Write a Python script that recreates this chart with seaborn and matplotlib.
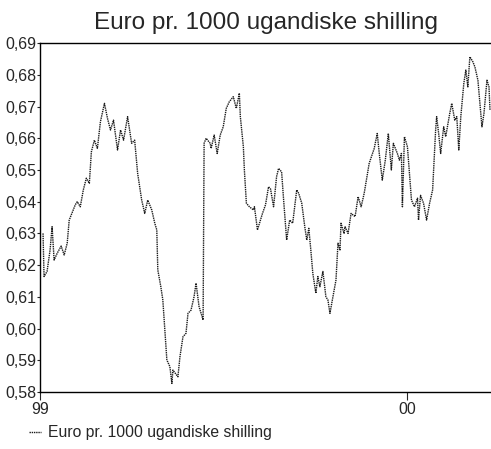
import pandas as pd
import matplotlib
matplotlib.use('Agg')
import matplotlib.pyplot as plt
import matplotlib.dates as mdates
from matplotlib.ticker import FuncFormatter, MultipleLocator
import seaborn as sns

# Values (approximate)
dates = [
    '1999-01-04', '1999-01-05', '1999-01-08', '1999-01-11', '1999-01-13', '1999-01-15',
    '1999-01-18', '1999-01-22', '1999-01-25', '1999-01-28', '1999-01-30', '1999-02-01',
    '1999-02-05', '1999-02-07', '1999-02-10', '1999-02-13', '1999-02-16', '1999-02-19',
    '1999-02-21', '1999-02-24', '1999-02-27', '1999-03-02', '1999-03-06', '1999-03-09',
    '1999-03-12', '1999-03-15', '1999-03-19', '1999-03-22', '1999-03-25', '1999-03-29',
    '1999-04-02', '1999-04-05', '1999-04-08', '1999-04-12', '1999-04-15', '1999-04-18',
    '1999-04-22', '1999-04-25', '1999-04-27', '1999-04-28', '1999-05-01', '1999-05-03',
    '1999-05-05', '1999-05-07', '1999-05-10', '1999-05-12', '1999-05-13', '1999-05-18',
    '1999-05-20', '1999-05-23', '1999-05-26', '1999-05-28', '1999-05-31', '1999-06-03',
    '1999-06-05', '1999-06-08', '1999-06-12', '1999-06-13', '1999-06-15', '1999-06-19',
    '1999-06-20', '1999-06-23', '1999-06-26', '1999-06-29', '1999-07-02', '1999-07-05',
    '1999-07-08', '1999-07-12', '1999-07-15', '1999-07-18', '1999-07-19', '1999-07-22',
    '1999-07-23', '1999-07-25', '1999-07-28', '1999-08-01', '1999-08-02', '1999-08-05',
    '1999-08-08', '1999-08-10', '1999-08-13', '1999-08-16', '1999-08-18', '1999-08-21',
    '1999-08-24', '1999-08-26', '1999-08-29', '1999-08-31', '1999-09-03', '1999-09-06',
    '1999-09-09', '1999-09-13', '1999-09-15', '1999-09-18', '1999-09-21', '1999-09-23',
    '1999-09-25', '1999-09-27', '1999-09-29', '1999-10-02', '1999-10-04', '1999-10-06',
    '1999-10-09', '1999-10-12', '1999-10-14', '1999-10-16', '1999-10-19', '1999-10-22',
    '1999-10-24', '1999-10-26', '1999-10-27', '1999-10-30', '1999-10-31', '1999-11-03',
    '1999-11-06', '1999-11-10', '1999-11-13', '1999-11-16', '1999-11-19', '1999-11-24',
    '1999-11-29', '1999-12-02', '1999-12-04', '1999-12-07', '1999-12-10', '1999-12-13',
    '1999-12-16', '1999-12-18', '1999-12-22', '1999-12-24', '1999-12-26', '1999-12-27',
    '1999-12-29', '2000-01-01', '2000-01-03', '2000-01-05', '2000-01-08', '2000-01-11',
    '2000-01-12', '2000-01-14', '2000-01-17', '2000-01-20', '2000-01-23', '2000-01-26',
    '2000-01-29', '2000-01-30', '2000-02-01', '2000-02-03', '2000-02-06', '2000-02-08',
    '2000-02-12', '2000-02-14', '2000-02-17', '2000-02-19', '2000-02-21', '2000-02-23',
    '2000-02-26', '2000-02-28', '2000-03-01', '2000-03-03', '2000-03-06', '2000-03-08',
    '2000-03-11', '2000-03-13', '2000-03-15', '2000-03-17', '2000-03-20', '2000-03-22',
    '2000-03-23',
]
values = [
    0.6300, 0.6164, 0.6180, 0.6248, 0.6321, 0.6216,
    0.6237, 0.6260, 0.6232, 0.6269, 0.6342, 0.6358,
    0.6390, 0.6400, 0.6384, 0.6437, 0.6474, 0.6458,
    0.6557, 0.6594, 0.6568, 0.6652, 0.6710, 0.6663,
    0.6626, 0.6657, 0.6563, 0.6626, 0.6594, 0.6668,
    0.6584, 0.6594, 0.6489, 0.6405, 0.6363, 0.6405,
    0.6374, 0.6332, 0.6311, 0.6185, 0.6132, 0.6090,
    0.5996, 0.5901, 0.5880, 0.5827, 0.5869, 0.5848,
    0.5911, 0.5974, 0.5985, 0.6048, 0.6058, 0.6100,
    0.6143, 0.6069, 0.6027, 0.6584, 0.6600, 0.6584,
    0.6568, 0.6610, 0.6552, 0.6610, 0.6636, 0.6694,
    0.6715, 0.6731, 0.6694, 0.6742, 0.6668, 0.6573,
    0.6500, 0.6395, 0.6384, 0.6374, 0.6384, 0.6311,
    0.6342, 0.6363, 0.6390, 0.6447, 0.6440, 0.6384,
    0.6479, 0.6505, 0.6494, 0.6405, 0.6279, 0.6342,
    0.6332, 0.6437, 0.6426, 0.6395, 0.6321, 0.6279,
    0.6316, 0.6248, 0.6174, 0.6111, 0.6164, 0.6132,
    0.6180, 0.6100, 0.6090, 0.6048, 0.6100, 0.6153,
    0.6269, 0.6248, 0.6332, 0.6300, 0.6321, 0.6300,
    0.6363, 0.6353, 0.6416, 0.6384, 0.6426, 0.6521,
    0.6568, 0.6615, 0.6552, 0.6468, 0.6531, 0.6615,
    0.6500, 0.6584, 0.6552, 0.6531, 0.6552, 0.6384,
    0.6605, 0.6573, 0.6489, 0.6405, 0.6384, 0.6411,
    0.6342, 0.6420, 0.6395, 0.6342, 0.6395, 0.6437,
    0.6626, 0.6668, 0.6615, 0.6552, 0.6636, 0.6605,
    0.6678, 0.6710, 0.6657, 0.6668, 0.6563, 0.6668,
    0.6773, 0.6815, 0.6762, 0.6857, 0.6841, 0.6825,
    0.6783, 0.6710, 0.6636, 0.6678, 0.6783, 0.6762,
    0.6689,
]
series_name = 'Euro pr. 1000 ugandiske shilling'
title = 'Euro pr. 1000 ugandiske shilling'

df = pd.DataFrame({'date': pd.to_datetime(dates), 'value': values})

sns.set_style('white')
plt.rcParams['font.family'] = ['Liberation Sans', 'DejaVu Sans']

fig = plt.figure(figsize=(4.91, 4.49), dpi=100)
ax = fig.add_axes([0.0815, 0.127, 0.9185, 0.777])

sns.lineplot(data=df, x='date', y='value', ax=ax, color='#1a1a1a',
             linewidth=1.0, linestyle=(0, (1, 0.6)), label=series_name)

ax.set_xlim(pd.Timestamp('1999-01-01'), pd.Timestamp('2000-03-24'))
ax.set_ylim(0.58, 0.69)
ax.yaxis.set_major_locator(MultipleLocator(0.01))
ax.yaxis.set_major_formatter(FuncFormatter(lambda v, p: f'{v:.2f}'.replace('.', ',')))
ax.xaxis.set_major_locator(mdates.YearLocator())
ax.xaxis.set_major_formatter(mdates.DateFormatter('%y'))

ax.set_xlabel('')
ax.set_ylabel('')
ax.set_title(title, fontsize=17.5, pad=10)

ax.tick_params(axis='y', length=2, pad=0.5, labelsize=11.5, direction='out', left=True)
ax.tick_params(axis='x', length=6, pad=1, labelsize=11.5, direction='out', bottom=True)

for side in ['left', 'bottom', 'top']:
    ax.spines[side].set_color('black')
    ax.spines[side].set_linewidth(1.0)
ax.spines['right'].set_visible(False)

ax.get_legend().remove()
handles, labels = ax.get_legend_handles_labels()
fig.legend(handles, labels, loc='center left', bbox_to_anchor=(0.03, 0.036),
           frameon=False, fontsize=11.3, handlelength=0.8, handletextpad=0.4)

plt.savefig('out.png', dpi=100)
plt.close()
